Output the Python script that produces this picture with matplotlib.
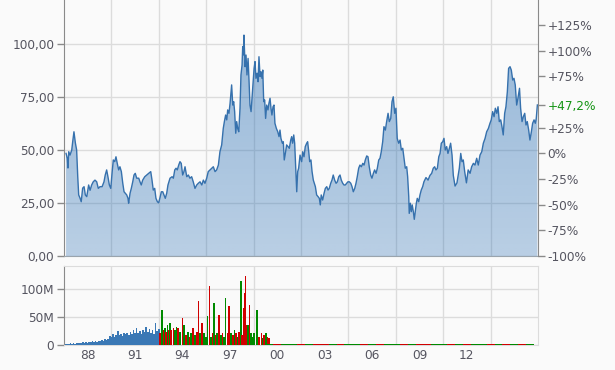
import numpy as np
import matplotlib
matplotlib.use('Agg')
import matplotlib.pyplot as plt

# Kursverlauf (Jahr als Dezimalzahl, Kurs)
price_years = [
    1987.13, 1987.21, 1987.25, 1987.30, 1987.38, 1987.49, 1987.55, 1987.63, 1987.72, 1987.80,
    1987.87, 1987.93, 1988.01, 1988.09, 1988.18, 1988.27, 1988.35, 1988.44, 1988.56, 1988.65,
    1988.75, 1988.85, 1988.96, 1989.07, 1989.17, 1989.28, 1989.41, 1989.53, 1989.61, 1989.70,
    1989.78, 1989.87, 1989.96, 1990.04, 1990.12, 1990.21, 1990.29, 1990.37, 1990.46, 1990.54,
    1990.63, 1990.72, 1990.80, 1990.88, 1990.97, 1991.05, 1991.09, 1991.18, 1991.26, 1991.35,
    1991.43, 1991.51, 1991.60, 1991.73, 1991.81, 1991.89, 1991.98, 1992.11, 1992.23, 1992.36,
    1992.49, 1992.57, 1992.65, 1992.74, 1992.82, 1992.91, 1992.99, 1993.08, 1993.16, 1993.25,
    1993.33, 1993.41, 1993.50, 1993.58, 1993.71, 1993.84, 1993.92, 1994.01, 1994.09, 1994.17,
    1994.26, 1994.34, 1994.42, 1994.51, 1994.59, 1994.66, 1994.77, 1994.87, 1994.97, 1995.08,
    1995.18, 1995.29, 1995.40, 1995.50, 1995.61, 1995.72, 1995.82, 1995.92, 1996.03, 1996.13,
    1996.24, 1996.35, 1996.45, 1996.56, 1996.66, 1996.77, 1996.87, 1996.98, 1997.08, 1997.15,
    1997.23, 1997.30, 1997.36, 1997.44, 1997.51, 1997.57, 1997.61, 1997.68, 1997.74, 1997.80,
    1997.87, 1997.93, 1997.99, 1998.06, 1998.14, 1998.20, 1998.27, 1998.31, 1998.35, 1998.39,
    1998.46, 1998.52, 1998.58, 1998.65, 1998.71, 1998.77, 1998.84, 1998.90, 1998.96, 1999.03,
    1999.09, 1999.15, 1999.22, 1999.28, 1999.34, 1999.41, 1999.47, 1999.53, 1999.58, 1999.64,
    1999.70, 1999.76, 1999.83, 1999.91, 1999.97, 2000.04, 2000.10, 2000.16, 2000.23, 2000.29,
    2000.35, 2000.44, 2000.53, 2000.61, 2000.67, 2000.73, 2000.82, 2000.88, 2000.94, 2001.01,
    2001.09, 2001.18, 2001.26, 2001.35, 2001.41, 2001.47, 2001.54, 2001.60, 2001.66, 2001.73,
    2001.79, 2001.85, 2001.94, 2002.04, 2002.11, 2002.19, 2002.27, 2002.36, 2002.42, 2002.49,
    2002.55, 2002.63, 2002.70, 2002.78, 2002.84, 2002.91, 2002.99, 2003.08, 2003.16, 2003.22,
    2003.28, 2003.37, 2003.46, 2003.54, 2003.63, 2003.71, 2003.79, 2003.88, 2003.96, 2004.04,
    2004.13, 2004.22, 2004.30, 2004.39, 2004.47, 2004.55, 2004.64, 2004.72, 2004.80, 2004.89,
    2004.97, 2005.06, 2005.15, 2005.23, 2005.31, 2005.40, 2005.48, 2005.56, 2005.65, 2005.73,
    2005.82, 2005.91, 2005.99, 2006.07, 2006.16, 2006.24, 2006.32, 2006.41, 2006.49, 2006.58,
    2006.66, 2006.75, 2006.83, 2006.92, 2007.00, 2007.08, 2007.17, 2007.25, 2007.34, 2007.42,
    2007.51, 2007.59, 2007.68, 2007.76, 2007.84, 2007.93, 2008.01, 2008.09, 2008.18, 2008.27,
    2008.35, 2008.44, 2008.52, 2008.60, 2008.69, 2008.75, 2008.82, 2008.85, 2008.92, 2008.98,
    2009.04, 2009.11, 2009.17, 2009.23, 2009.30, 2009.36, 2009.45, 2009.53, 2009.61, 2009.70,
    2009.78, 2009.91, 2010.04, 2010.16, 2010.27, 2010.37, 2010.46, 2010.54, 2010.63, 2010.72,
    2010.80, 2010.88, 2010.97, 2011.05, 2011.13, 2011.22, 2011.30, 2011.39, 2011.47, 2011.56,
    2011.64, 2011.75, 2011.87, 2012.02, 2012.11, 2012.19, 2012.27, 2012.36, 2012.47, 2012.58,
    2012.70, 2012.80, 2012.91, 2013.01, 2013.12, 2013.22, 2013.33, 2013.44, 2013.54, 2013.65,
    2013.75, 2013.86, 2013.96, 2014.04, 2014.13, 2014.22, 2014.30, 2014.39, 2014.47, 2014.55,
    2014.64, 2014.72, 2014.80, 2014.89, 2014.97, 2015.06, 2015.14, 2015.23, 2015.31, 2015.40,
    2015.48, 2015.56, 2015.65, 2015.73, 2015.83, 2015.90, 2015.99, 2016.07, 2016.16, 2016.24,
    2016.32, 2016.41, 2016.49, 2016.58, 2016.66, 2016.75, 2016.83, 2016.89, 2016.96,
]
prices = [
    48.4, 46.0, 41.5, 49.2, 47.6, 50.0, 53.9, 58.6, 53.3, 50.0,
    37.4, 28.8, 27.4, 25.6, 32.0, 32.7, 28.8, 28.0, 33.5, 31.0,
    33.5, 35.0, 35.8, 35.0, 31.9, 32.7, 32.7, 35.0, 38.2, 40.6,
    37.4, 33.5, 31.9, 39.0, 45.3, 44.5, 46.8, 43.7, 40.6, 42.1,
    39.8, 34.3, 30.3, 29.6, 28.8, 27.2, 24.9, 29.6, 31.9, 35.0,
    38.2, 39.0, 36.7, 36.7, 35.0, 33.5, 35.8, 37.4, 38.2, 39.0,
    39.8, 35.8, 31.1, 31.9, 27.2, 25.6, 25.1, 27.7, 30.3, 30.3,
    28.8, 27.2, 29.6, 33.5, 36.7, 37.4, 36.7, 40.6, 41.4, 40.6,
    42.9, 44.5, 43.7, 38.2, 39.8, 42.1, 37.4, 38.2, 36.7, 37.4,
    35.0, 31.9, 33.5, 34.3, 35.0, 33.5, 35.8, 34.3, 36.7, 39.8,
    40.6, 41.4, 42.1, 39.8, 40.6, 42.9, 49.2, 52.4, 60.2, 63.4,
    66.5, 64.2, 68.9, 67.3, 72.0, 77.5, 80.7, 71.2, 72.8, 68.1,
    57.9, 63.4, 60.2, 58.6, 69.7, 85.4, 90.1, 98.7, 94.8, 104.2,
    89.3, 94.8, 85.4, 93.2, 83.0, 71.2, 68.1, 74.4, 81.4, 88.5,
    91.7, 83.8, 86.2, 82.2, 94.0, 84.6, 86.9, 83.8, 87.7, 72.8,
    73.6, 64.9, 71.2, 68.9, 72.0, 74.4, 69.7, 66.5, 70.4, 71.2,
    62.6, 60.2, 58.6, 56.3, 59.4, 55.5, 53.2, 53.9, 45.3, 48.4,
    52.4, 51.6, 50.8, 54.7, 56.3, 53.2, 57.1, 53.2, 42.9, 30.3,
    39.8, 41.4, 47.6, 44.5, 49.2, 46.8, 51.6, 53.2, 53.9, 49.2,
    44.5, 45.3, 39.8, 35.8, 34.3, 32.7, 28.8, 28.0, 27.2, 24.1,
    28.8, 26.4, 29.6, 31.9, 32.7, 31.1, 31.9, 34.3, 35.8, 38.2,
    35.8, 34.3, 35.0, 37.4, 38.2, 35.8, 34.3, 33.5, 33.5, 34.3,
    35.0, 35.0, 34.3, 32.7, 30.3, 31.9, 34.3, 37.4, 41.4, 42.9,
    42.1, 43.7, 42.9, 45.3, 47.2, 46.8, 42.1, 38.2, 36.7, 39.0,
    40.6, 39.0, 41.4, 45.3, 46.1, 49.2, 53.9, 61.0, 59.4, 63.4,
    67.3, 63.4, 64.9, 72.8, 75.1, 67.3, 69.7, 55.5, 53.2, 54.7,
    50.0, 50.8, 46.1, 41.4, 42.1, 37.4, 28.0, 20.1, 24.9, 20.9,
    24.1, 20.9, 17.3, 20.9, 24.9, 27.2, 25.6, 28.8, 31.1, 32.7,
    35.0, 37.0, 35.8, 38.0, 39.0, 41.4, 42.1, 40.6, 41.4, 46.8,
    48.4, 53.2, 53.9, 55.5, 50.0, 51.6, 48.4, 50.8, 53.2, 47.6,
    38.0, 33.0, 34.5, 41.4, 48.4, 44.5, 45.3, 39.8, 34.5, 40.6,
    39.0, 42.1, 43.7, 42.9, 46.1, 42.9, 47.6, 49.2, 53.2, 55.5,
    58.6, 60.2, 62.6, 64.2, 68.1, 65.7, 69.7, 67.3, 70.4, 63.4,
    64.2, 61.0, 57.1, 67.3, 70.4, 77.5, 88.5, 89.3, 87.7, 83.0,
    83.8, 80.7, 71.2, 74.4, 79.1, 69.7, 63.4, 65.7, 67.3, 61.8,
    63.4, 59.4, 54.7, 58.6, 62.6, 64.2, 62.6, 64.9, 71.25,
]

# Umsatz bis Anfang 1993 (Mio. Stueck)
blue_years = np.round(np.arange(1987.1, 1993.05, 0.1), 1)
blue_vol = [
    2, 2.5, 2, 3, 2.5, 3, 2, 4, 3.5, 4,
    3, 4.5, 3.5, 5, 4, 6, 5, 7, 5.5, 7,
    6, 8, 7, 9, 8, 10, 9, 11, 16, 14,
    19, 15, 18, 25, 17, 20, 16, 22, 19, 21,
    18, 24, 20, 27, 22, 30, 21, 25, 20, 26,
    23, 33, 24, 29, 22, 27, 20, 39, 25, 28,
]

# Umsatz 1993-1999, mit Kursrichtung (1 = steigend, 0 = fallend)
rg_years = [
    1993.08, 1993.20, 1993.29, 1993.39, 1993.46, 1993.54, 1993.62, 1993.71, 1993.79, 1993.92,
    1994.03, 1994.13, 1994.22, 1994.34, 1994.49, 1994.61, 1994.72, 1994.83, 1994.93, 1995.04,
    1995.18, 1995.29, 1995.40, 1995.50, 1995.61, 1995.75, 1995.86, 1995.99, 1996.07, 1996.20,
    1996.30, 1996.41, 1996.51, 1996.60, 1996.70, 1996.81, 1996.92, 1997.02, 1997.13, 1997.23,
    1997.34, 1997.46, 1997.57, 1997.68, 1997.78, 1997.89, 1997.99, 1998.09, 1998.20, 1998.27,
    1998.35, 1998.44, 1998.50, 1998.56, 1998.65, 1998.73, 1998.82, 1998.94, 1999.03, 1999.20,
    1999.23, 1999.36, 1999.49, 1999.58, 1999.66, 1999.78, 1999.87, 1999.96,
]
rg_vol = [
    21, 63, 27, 30, 24, 36, 27, 39, 27, 30,
    27, 33, 30, 24, 48, 36, 18, 24, 15, 21,
    30, 18, 24, 78, 21, 39, 21, 15, 51, 105,
    15, 21, 75, 18, 21, 54, 18, 21, 15, 84,
    21, 69, 21, 18, 27, 21, 15, 24, 114, 18,
    66, 93, 123, 36, 36, 72, 21, 15, 21, 63,
    63, 15, 21, 12, 18, 21, 15, 12,
]
rg_up = [
    0, 1, 0, 1, 0, 1, 0, 1, 0, 0,
    1, 1, 0, 1, 0, 1, 0, 1, 0, 1,
    0, 1, 0, 0, 1, 0, 1, 1, 1, 0,
    1, 0, 1, 0, 1, 0, 1, 0, 1, 1,
    0, 0, 1, 0, 1, 0, 1, 0, 1, 0,
    0, 0, 0, 0, 1, 0, 1, 1, 1, 0,
    1, 0, 0, 1, 0, 1, 0, 0,
]

# Umsatz ab 2000 (kaum noch vorhanden)
late_years = np.arange(2000.0, 2017.0, 0.5)
late_vol = [
    2.2, 1.8, 2.4, 2.0, 1.9, 2.3, 2.1, 1.8, 2.2, 2.0,
    2.4, 1.9, 2.1, 2.3, 1.8, 2.0, 2.2, 2.1, 1.9, 2.4,
    2.0, 2.2, 1.8, 2.1, 2.3, 1.9, 2.0, 2.2, 2.4, 1.8,
    2.1, 2.0, 2.3, 2.2,
]
late_up = [
    1, 0, 1, 1, 0, 1, 0, 0, 1, 0,
    1, 1, 0, 1, 0, 1, 1, 0, 1, 0,
    0, 1, 1, 0, 1, 0, 1, 1, 0, 1,
    0, 1, 0, 1,
]

left_ticks = [0, 25, 50, 75, 100]
pct_ticks = [125, 100, 75, 25, 0, -25, -50, -75, -100]
label_years = [1988, 1991, 1994, 1997, 2000, 2003, 2006, 2009, 2012]
grid_years = [1990, 1993, 1996, 1999, 2002, 2005, 2008, 2011, 2014]

bg = '#fafafa'
grid_c = '#dcdcdc'
txt_c = '#555560'
spine_c = '#8a8a8a'
fs = 8.7

plt.rcParams['font.family'] = ['DejaVu Sans']

fig = plt.figure(figsize=(6.15, 3.7), dpi=100, facecolor=bg)
ax = fig.add_axes([64/615, 1-256/370, 474/615, 256/370], facecolor=bg)
axv = fig.add_axes([64/615, 1-345/370, 474/615, 79/370], facecolor=bg)

x0, x1 = 1987.0, 2017.0
ymax = 120.75

# Kurs mit Verlaufsflaeche
ax.plot(price_years, prices, color='#3671ad', lw=1.0, zorder=3)
fill = ax.fill_between(price_years, prices, 0, facecolor='none', edgecolor='none')
grad = np.zeros((100, 1, 4))
grad[..., 0] = 40/255
grad[..., 1] = 110/255
grad[..., 2] = 180/255
grad[:, 0, 3] = np.linspace(0.47, 0.31, 100)
im = ax.imshow(grad, extent=[x0, x1, 0, 105], aspect='auto', origin='upper', zorder=2)
im.set_clip_path(fill.get_paths()[0], transform=ax.transData)

ax.set_xlim(x0, x1)
ax.set_ylim(0, ymax)
ax.set_yticks(left_ticks)
ax.set_yticklabels(['%d,00' % v for v in left_ticks])
ax.set_xticks(grid_years)
ax.tick_params(axis='x', length=0, labelbottom=False)
ax.tick_params(axis='y', direction='out', length=5, width=1, color=spine_c,
               labelsize=fs, labelcolor=txt_c, pad=2)
ax.grid(True, color=grid_c, lw=1)
ax.set_axisbelow(True)
for s in ['top', 'right']:
    ax.spines[s].set_visible(False)
ax.spines['left'].set_color(spine_c)
ax.spines['bottom'].set_color('#9aa4ad')

# rechte Achse in Prozent
p0 = prices[0]
perf = (prices[-1] / p0 - 1) * 100
ax2 = ax.twinx()
ax2.set_ylim(-100, (ymax / p0 - 1) * 100)
ticks_r = sorted(pct_ticks + [perf], reverse=True)
ax2.set_yticks(ticks_r)
labels_r = []
for t in ticks_r:
    if t == perf:
        labels_r.append(('+%.1f%%' % t).replace('.', ','))
    elif t > 0:
        labels_r.append('+%d%%' % t)
    else:
        labels_r.append('%d%%' % t)
ax2.set_yticklabels(labels_r)
ax2.tick_params(axis='y', direction='out', length=5, width=1, color=spine_c,
                labelsize=fs, labelcolor=txt_c, pad=2)
for lab, t in zip(ax2.get_yticklabels(), ticks_r):
    if t == perf:
        lab.set_color('#149414')
for s in ['top', 'left', 'bottom']:
    ax2.spines[s].set_visible(False)
ax2.spines['right'].set_color(spine_c)

# Umsatz
axv.bar(blue_years, np.array(blue_vol) * 1e6, width=0.1, color='#3a78b5', zorder=3)
rg_cols = ['#008a00' if u else '#d00000' for u in rg_up]
axv.bar(rg_years, np.array(rg_vol) * 1e6, width=0.1, color=rg_cols, zorder=3)
late_cols = ['#008a00' if u else '#d00000' for u in late_up]
axv.bar(late_years, np.array(late_vol) * 1e6, width=0.5, color=late_cols, zorder=3)

axv.set_xlim(x0, x1)
axv.set_ylim(0, 141e6)
axv.set_yticks([0, 50e6, 100e6])
axv.set_yticklabels(['0', '50M', '100M'])
axv.set_xticks(grid_years)
axv.set_xticks([y + 0.5 for y in label_years], minor=True)
axv.set_xticklabels(['%02d' % (y % 100) for y in label_years], minor=True)
axv.tick_params(axis='x', which='both', length=0, labelbottom=False)
axv.tick_params(axis='x', which='minor', labelbottom=True, labelsize=fs,
                labelcolor=txt_c, pad=3)
axv.tick_params(axis='y', direction='out', length=5, width=1, color=spine_c,
                labelsize=fs, labelcolor=txt_c, pad=2)
axv.grid(True, which='major', color=grid_c, lw=1)
axv.set_axisbelow(True)
for s in ['top', 'right', 'bottom']:
    axv.spines[s].set_color(grid_c)
axv.spines['left'].set_color(spine_c)

fig.savefig('out.png', dpi=100, facecolor=bg)
